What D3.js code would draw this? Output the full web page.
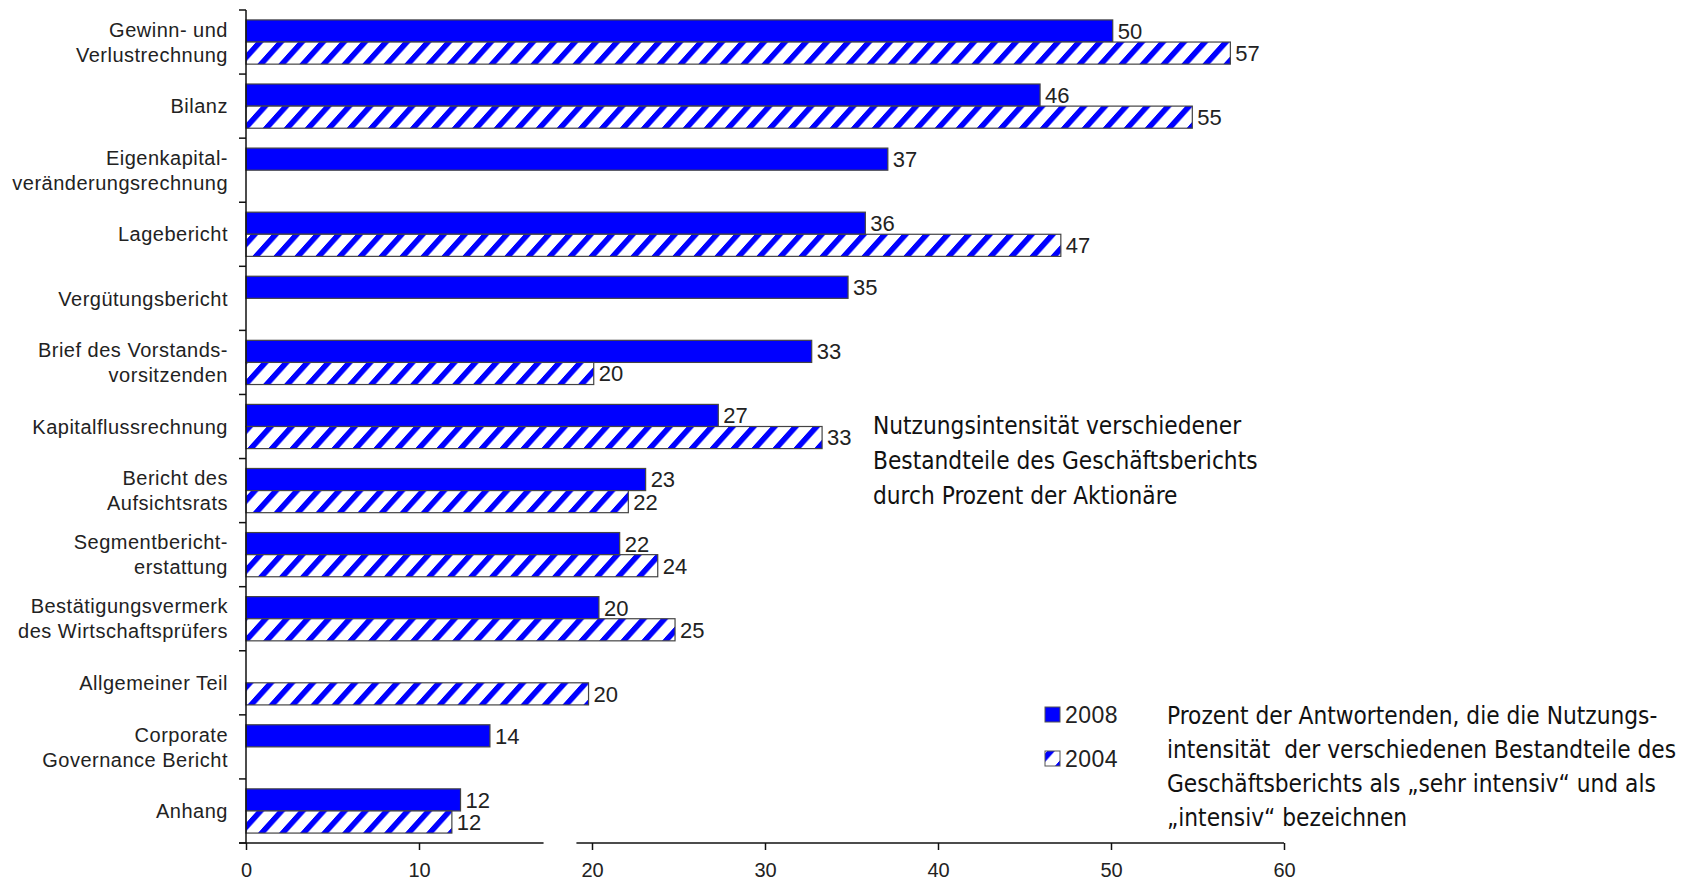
<!DOCTYPE html>
<html>
<head>
<meta charset="utf-8">
<script src="https://cdn.jsdelivr.net/npm/d3@7"></script>
<style>
  body { margin: 0; background: #fff; }
  .cat { font-family: "Liberation Sans", Arial, sans-serif; font-size: 20px; letter-spacing: 0.5px; fill: #222; }
  .val { font-family: "Liberation Sans", Arial, sans-serif; font-size: 22px; fill: #222; }
  .leg { font-family: "Liberation Sans", Arial, sans-serif; font-size: 23px; letter-spacing: 0.5px; fill: #222; }
  .note { font-family: "Liberation Sans Narrow", "DejaVu Sans Condensed", sans-serif; font-size: 24.2px; fill: #111; }
</style>
</head>
<body>
<div id="chart"></div>
<script>
// categories (top to bottom), label lines
var categories = [
  ["Gewinn- und", "Verlustrechnung"],
  ["Bilanz"],
  ["Eigenkapital-", "veränderungsrechnung"],
  ["Lagebericht"],
  ["Vergütungsbericht"],
  ["Brief des Vorstands-", "vorsitzenden"],
  ["Kapitalflussrechnung"],
  ["Bericht des", "Aufsichtsrats"],
  ["Segmentbericht-", "erstattung"],
  ["Bestätigungsvermerk", "des Wirtschaftsprüfers"],
  ["Allgemeiner Teil"],
  ["Corporate", "Governance Bericht"],
  ["Anhang"]
];
// percent of shareholders, null = not asked that year
var values2008 = [50.1, 45.9, 37.1, 35.8, 34.8, 32.7, 27.3, 23.1, 21.6, 20.4, null, 14.1, 12.4];
var values2004 = [56.9, 54.7, null, 47.1, null, 20.1, 33.3, 22.1, 23.8, 24.8, 19.8, null, 11.9];
var valueLabels2008 = ["50", "46", "37", "36", "35", "33", "27", "23", "22", "20", null, "14", "12"];
var valueLabels2004 = ["57", "55", null, "47", null, "20", "33", "22", "24", "25", "20", null, "12"];
var seriesNames = ["2008", "2004"];
var xTicks = [0, 10, 20, 30, 40, 50, 60];
var axisBreak = [17.2, 19.1];

var noteTop = ["Nutzungsintensität verschiedener", "Bestandteile des Geschäftsberichts", "durch Prozent der Aktionäre"];
var noteBottom = ["Prozent der Antwortenden, die die Nutzungs-", "intensität  der verschiedenen Bestandteile des",
  "Geschäftsberichts als „sehr intensiv“ und als", "„intensiv“ bezeichnen"];

var W = 1694, H = 882;
var blue = "#0000ff";

var svg = d3.select("#chart").append("svg")
    .attr("width", W)
    .attr("height", H);

// hatch pattern for 2004
var defs = svg.append("defs");
var pat = defs.append("pattern")
    .attr("id", "hatch")
    .attr("patternUnits", "userSpaceOnUse")
    .attr("width", 21)
    .attr("height", 21)
    .attr("patternTransform", "skewX(-42)");
pat.append("rect").attr("width", 21).attr("height", 21).attr("fill", "#fff");
pat.append("rect").attr("x", 0).attr("width", 7.5).attr("height", 21).attr("fill", blue);

var x = d3.scaleLinear().domain([0, 60]).range([246, 1284]);
var y = d3.scaleBand()
    .domain(d3.range(categories.length))
    .range([10, 843]);

var barH = y.bandwidth() * 0.345;
var groupTop = function(i) { return y(i) + (y.bandwidth() - 2 * barH) / 2; };

// bars
var rows = categories.map(function(c, i) {
    return { i: i, v08: values2008[i], v04: values2004[i], l08: valueLabels2008[i], l04: valueLabels2004[i] };
});

var g = svg.append("g");

g.selectAll("rect.b08")
    .data(rows.filter(function(d) { return d.v08 != null; }))
    .enter().append("rect")
    .attr("class", "b08")
    .attr("x", x(0))
    .attr("y", function(d) { return groupTop(d.i); })
    .attr("width", function(d) { return x(d.v08) - x(0); })
    .attr("height", barH)
    .attr("fill", blue)
    .attr("stroke", "#444")
    .attr("stroke-width", 1.2);

g.selectAll("rect.b04")
    .data(rows.filter(function(d) { return d.v04 != null; }))
    .enter().append("rect")
    .attr("class", "b04")
    .attr("x", x(0))
    .attr("y", function(d) { return groupTop(d.i) + barH; })
    .attr("width", function(d) { return x(d.v04) - x(0); })
    .attr("height", barH)
    .attr("fill", "url(#hatch)")
    .attr("stroke", "#444")
    .attr("stroke-width", 1.2);

// value labels
g.selectAll("text.l08")
    .data(rows.filter(function(d) { return d.v08 != null; }))
    .enter().append("text")
    .attr("class", "val")
    .attr("x", function(d) { return x(d.v08) + 5; })
    .attr("y", function(d) { return groupTop(d.i) + barH / 2; })
    .attr("dy", "0.36em")
    .text(function(d) { return d.l08; });

g.selectAll("text.l04")
    .data(rows.filter(function(d) { return d.v04 != null; }))
    .enter().append("text")
    .attr("class", "val")
    .attr("x", function(d) { return x(d.v04) + 5; })
    .attr("y", function(d) { return groupTop(d.i) + barH * 1.5; })
    .attr("dy", "0.36em")
    .text(function(d) { return d.l04; });

// y axis: line + ticks at band edges
var yAxis = svg.append("g");
yAxis.append("line")
    .attr("x1", x(0)).attr("x2", x(0))
    .attr("y1", y.range()[0]).attr("y2", y.range()[1])
    .attr("stroke", "#111").attr("stroke-width", 1.5);
var edges = d3.range(categories.length).map(function(i) { return y(i); }).concat([y.range()[1]]);
yAxis.selectAll("line.yt")
    .data(edges)
    .enter().append("line")
    .attr("x1", x(0) - 7).attr("x2", x(0))
    .attr("y1", function(d) { return d; }).attr("y2", function(d) { return d; })
    .attr("stroke", "#111").attr("stroke-width", 1.5);

// category labels
var labels = svg.append("g").selectAll("text")
    .data(categories)
    .enter().append("text")
    .attr("class", "cat")
    .attr("text-anchor", "end")
    .attr("x", 228)
    .attr("y", function(d, i) { return y(i) + y.bandwidth() / 2 - (d.length - 1) * 12.5; });
labels.selectAll("tspan")
    .data(function(d) { return d; })
    .enter().append("tspan")
    .attr("x", 228)
    .attr("dy", function(d, j) { return j === 0 ? "0.36em" : 25; })
    .text(function(d) { return d; });

// x axis with break in the line
var xAxisY = y.range()[1];
var xg = svg.append("g")
    .attr("transform", "translate(0," + xAxisY + ")")
    .call(d3.axisBottom(x).tickValues(xTicks).tickSize(7).tickFormat(d3.format("d")));
xg.attr("font-size", 20).attr("font-family", "'Liberation Sans', Arial, sans-serif");
xg.select(".domain").remove();
xg.selectAll(".tick line").attr("stroke", "#111").attr("stroke-width", 1.5);
xg.selectAll(".tick text").attr("fill", "#222").attr("dy", "0.36em").attr("y", 27);
[[-0.4, axisBreak[0]], [axisBreak[1], 60]].forEach(function(seg) {
    xg.append("line")
        .attr("x1", x(seg[0])).attr("x2", x(seg[1]))
        .attr("y1", 0).attr("y2", 0)
        .attr("stroke", "#111").attr("stroke-width", 1.5);
});

// legend
var leg = svg.append("g").attr("transform", "translate(1045,707)");
seriesNames.forEach(function(s, i) {
    leg.append("rect")
        .attr("x", 0).attr("y", i * 44)
        .attr("width", 15).attr("height", 15)
        .attr("fill", i === 0 ? blue : "url(#hatch)")
        .attr("stroke", "#555").attr("stroke-width", 1);
    leg.append("text")
        .attr("class", "leg")
        .attr("x", 20).attr("y", i * 44 + 8)
        .attr("dy", "0.36em")
        .text(s);
});

// notes
svg.append("g").selectAll("text")
    .data(noteTop)
    .enter().append("text")
    .attr("class", "note")
    .attr("x", 873)
    .attr("y", function(d, i) { return 434 + i * 35; })
    .text(function(d) { return d; });

svg.append("g").selectAll("text")
    .data(noteBottom)
    .enter().append("text")
    .attr("class", "note")
    .attr("x", 1167)
    .attr("y", function(d, i) { return 724 + i * 34; })
    .attr("xml:space", "preserve")
    .style("white-space", "pre")
    .text(function(d) { return d; });
</script>
</body>
</html>
